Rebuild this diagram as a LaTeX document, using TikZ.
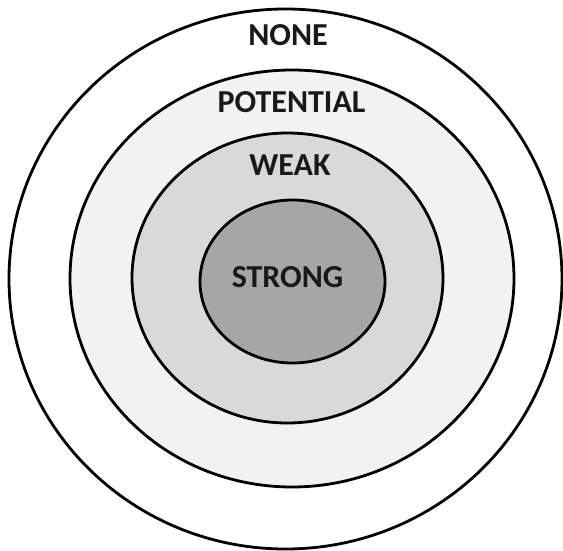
\documentclass[tikz,border=0pt]{standalone}
\usepackage{fontspec}
\setmainfont{Carlito}
\usetikzlibrary{shapes.geometric}
\definecolor{ringpot}{HTML}{F2F2F2}
\definecolor{ringweak}{HTML}{D9D9D9}
\definecolor{ringstrong}{HTML}{A6A6A6}
\tikzset{
  ring/.style={ellipse, draw=black, line width=2.8pt, inner sep=0pt},
  lbl/.style={font=\fontsize{32}{32}\selectfont\bfseries, text=black!90, inner sep=0pt, anchor=center}
}
\begin{document}
\begin{tikzpicture}[x=1pt,y=-1pt]
\useasboundingbox (0,0) rectangle (563,551);
\fill[white] (0,0) rectangle (563,551);
\node[ring, fill=white, minimum width=553pt, minimum height=540pt] (none) at (285.5,279) {};
\node[ring, fill=ringpot, minimum width=444pt, minimum height=417pt] (potential) at (292,278.5) {};
\node[ring, fill=ringweak, minimum width=311pt, minimum height=290pt] (weak) at (287.5,278) {};
\node[ring, fill=ringstrong, minimum width=185pt, minimum height=163pt] (strong) at (292.5,281.5) {};
\node[lbl] (tnone) at (288,35) {NONE};
\node[lbl] (tpot) at (291.5,102.5) {POTENTIAL};
\node[lbl] (tweak) at (290,165) {WEAK};
\node[lbl] (tstrong) at (287.5,277) {STRONG};
\end{tikzpicture}
\end{document}
